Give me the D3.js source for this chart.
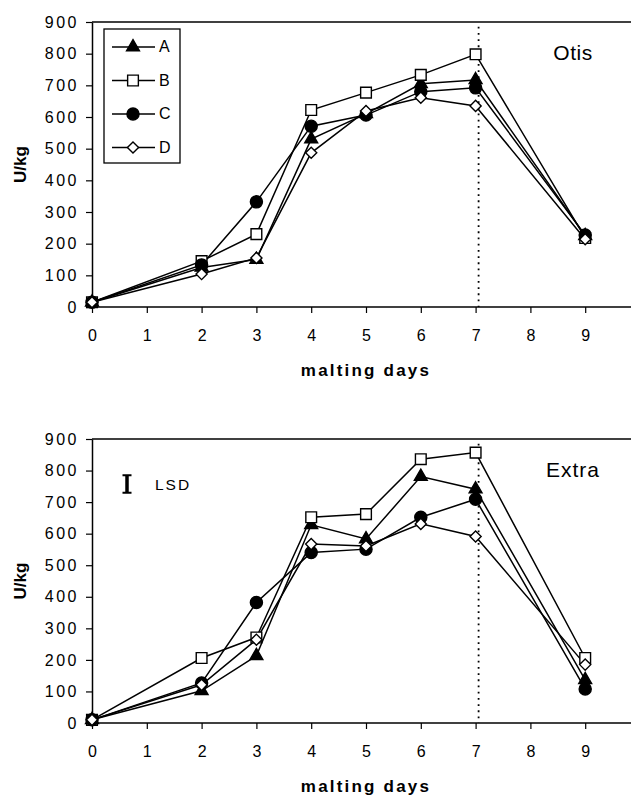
<!DOCTYPE html>
<html>
<head>
<meta charset="utf-8">
<script src="https://cdn.jsdelivr.net/npm/d3@7"></script>
<style>
  body { margin: 0; background: #fff; }
  svg { display: block; font-family: "Liberation Sans", Arial, sans-serif; }
  .tick text { font-size: 16px; fill: #000; }
  .yaxis .tick text { letter-spacing: 2.5px; }
  .axisTitle { font-weight: bold; }
</style>
</head>
<body>
<div id="chart"></div>
<script>
// malting days and enzyme activity (U/kg)
const days = [0, 2, 3, 4, 5, 6, 7, 9];
const seriesNames = ["A", "B", "C", "D"];

const otisA = [15, 125, 150, 530, 610, 705, 717, 225];
const otisB = [15, 145, 230, 622, 677, 733, 798, 218];
const otisC = [15, 133, 332, 571, 606, 680, 692, 227];
const otisD = [15, 104, 155, 487, 619, 661, 635, 214];

const extraA = [10, 102, 213, 628, 583, 781, 741, 137];
const extraB = [10, 206, 271, 652, 662, 836, 857, 206];
const extraC = [10, 127, 382, 540, 551, 652, 709, 108];
const extraD = [10, 121, 264, 567, 561, 631, 591, 185];

const xTicks = [0, 1, 2, 3, 4, 5, 6, 7, 8, 9];
const yTicks = [0, 100, 200, 300, 400, 500, 600, 700, 800, 900];
const markerDay = 7;
const lsdValue = 55;

const width = 631, height = 799;

const svg = d3.select("#chart")
    .append("svg")
    .attr("width", width)
    .attr("height", height);

const x = d3.scaleLinear().domain([0, 10]).range([92, 640]);

// diamond drawn as a square turned 45 degrees
const diamond = {
  draw(ctx, size) {
    const r = Math.sqrt(size / 2);
    ctx.moveTo(0, -r); ctx.lineTo(r, 0); ctx.lineTo(0, r); ctx.lineTo(-r, 0); ctx.closePath();
  }
};

// marker shapes per series
const symbolFor = {
  A: { type: d3.symbolTriangle, size: 72, fill: "#000" },
  B: { type: d3.symbolSquare, size: 115, fill: "#fff" },
  C: { type: d3.symbolCircle, size: 115, fill: "#000" },
  D: { type: diamond, size: 62, fill: "#fff" }
};

function drawMarker(g, name, cx, cy) {
  const s = symbolFor[name];
  g.append("path")
    .attr("d", d3.symbol().type(s.type).size(s.size)())
    .attr("transform", `translate(${cx},${cy})`)
    .attr("fill", s.fill)
    .attr("stroke", "#000")
    .attr("stroke-width", 1.4);
}

function drawPanel(top, bottom, seriesData, label, showLegend, showLsd) {
  const y = d3.scaleLinear().domain([0, 900]).range([bottom, top]);
  const g = svg.append("g");

  // top frame line
  g.append("line")
    .attr("x1", x(0)).attr("x2", width)
    .attr("y1", y(900)).attr("y2", y(900))
    .attr("stroke", "#000").attr("stroke-width", 1.5);

  const xAxis = g.append("g")
    .attr("transform", `translate(0,${bottom})`)
    .call(d3.axisBottom(x).tickValues(xTicks).tickSize(6).tickPadding(17).tickSizeOuter(0));
  xAxis.select(".domain").attr("d", `M${x(0)},0H${width}`).attr("stroke-width", 1.5);

  const yAxis = g.append("g")
    .attr("class", "yaxis")
    .attr("transform", `translate(${x(0)},0)`)
    .call(d3.axisLeft(y).tickValues(yTicks).tickSize(6).tickPadding(7).tickSizeOuter(0));
  yAxis.select(".domain").attr("stroke-width", 1.5);
  g.selectAll(".tick line").attr("stroke-width", 1.2);

  // dotted line at day 7
  g.append("line")
    .attr("x1", x(markerDay) + 3).attr("x2", x(markerDay) + 3)
    .attr("y1", y(885)).attr("y2", bottom)
    .attr("stroke", "#000").attr("stroke-width", 1.8)
    .attr("stroke-dasharray", "1.8,4.4");

  const line = d3.line().x((d, i) => x(days[i])).y(d => y(d));

  seriesNames.forEach((name, k) => {
    g.append("path")
      .datum(seriesData[k])
      .attr("d", line)
      .attr("fill", "none")
      .attr("stroke", "#000")
      .attr("stroke-width", 1.5);
  });
  seriesNames.forEach((name, k) => {
    seriesData[k].forEach((v, i) => drawMarker(g, name, x(days[i]), y(v)));
  });

  g.append("text")
    .attr("x", 573).attr("y", top + 38)
    .attr("text-anchor", "middle")
    .attr("font-size", 21)
    .attr("letter-spacing", label === "Extra" ? 1 : 0.5)
    .text(label);

  g.append("text")
    .attr("class", "axisTitle")
    .attr("font-size", 17)
    .attr("transform", `translate(25.5,${(top + bottom) / 2}) rotate(-90)`)
    .attr("text-anchor", "middle")
    .text("U/kg");

  g.append("text")
    .attr("class", "axisTitle")
    .attr("font-size", 17)
    .attr("x", 366).attr("y", bottom + 69)
    .attr("text-anchor", "middle")
    .attr("letter-spacing", 2.2)
    .text("malting days");

  if (showLegend) {
    const lg = g.append("g");
    lg.append("rect")
      .attr("x", 104).attr("y", 29).attr("width", 76).attr("height", 134)
      .attr("fill", "#fff").attr("stroke", "#000").attr("stroke-width", 1.3);
    seriesNames.forEach((name, k) => {
      const ly = 47 + k * 33.5;
      lg.append("line")
        .attr("x1", 112).attr("x2", 155).attr("y1", ly).attr("y2", ly)
        .attr("stroke", "#000").attr("stroke-width", 1.5);
      drawMarker(lg, name, 133, ly);
      lg.append("text")
        .attr("x", 159).attr("y", ly + 5)
        .attr("font-size", 16)
        .text(name);
    });
  }

  if (showLsd) {
    const cx = 127, cy = 484;
    const half = (y(0) - y(lsdValue)) / 2;
    g.append("path")
      .attr("d", `M${cx - 4.5},${cy - half}H${cx + 4.5}M${cx - 4.5},${cy + half}H${cx + 4.5}`)
      .attr("stroke", "#000").attr("stroke-width", 2).attr("fill", "none");
    g.append("line")
      .attr("x1", cx).attr("x2", cx).attr("y1", cy - half).attr("y2", cy + half)
      .attr("stroke", "#000").attr("stroke-width", 3.5);
    g.append("text")
      .attr("x", 155).attr("y", cy + 5.5)
      .attr("font-size", 15.5)
      .attr("letter-spacing", 2)
      .text("LSD");
  }
}

drawPanel(22, 307, [otisA, otisB, otisC, otisD], "Otis", true, false);
drawPanel(439, 723, [extraA, extraB, extraC, extraD], "Extra", false, true);
</script>
</body>
</html>
